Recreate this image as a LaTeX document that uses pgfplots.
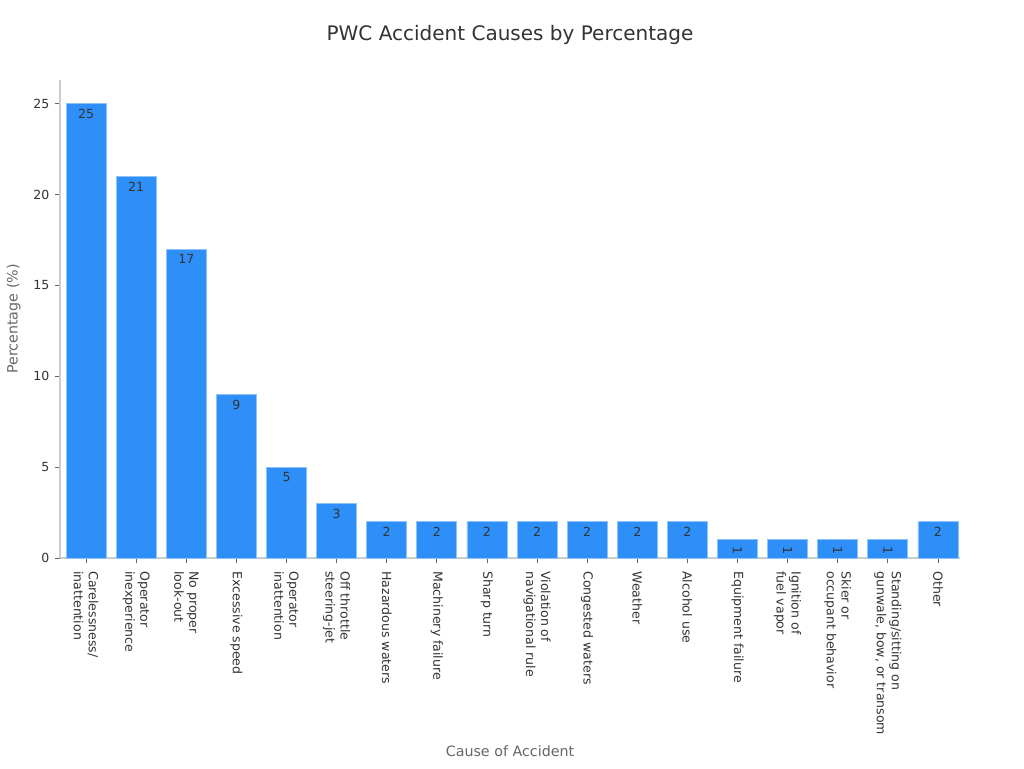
\documentclass[border=0pt]{standalone}
\usepackage{fontspec}
\setmainfont{DejaVu Sans}
\usepackage{pgfplots}
\pgfplotsset{compat=1.18}
\usepackage{pgfplotstable}

\definecolor{barblue}{HTML}{2D8FF7}
\definecolor{baredge}{HTML}{8CC4FA}
\definecolor{txt}{HTML}{333333}
\definecolor{lbl}{HTML}{666666}
\definecolor{axisgray}{HTML}{CCCCCC}

% idx value
\pgfplotstableread{
x y
0 25
1 21
2 17
3 9
4 5
5 3
6 2
7 2
8 2
9 2
10 2
11 2
12 2
17 2
}\bigbars
\pgfplotstableread{
x y
13 1
14 1
15 1
16 1
}\smallbars

\begin{document}
\begin{tikzpicture}
\begin{axis}[
   at={(0pt,0pt)}, anchor=south west,
   scale only axis,
   width=675pt, height=358.5pt,
   xmin=-0.52, xmax=17.44,
   ymin=0, ymax=26.3,
   axis x line*=bottom,
   axis y line*=left,
   axis line style={axisgray, line width=0.8pt},
   ytick={0,5,...,25},
   xtick={0,...,17},
   xticklabels={
     {Carelessness/\\inattention},
     {Operator\\inexperience},
     {No proper\\look-out},
     {Excessive speed},
     {Operator\\inattention},
     {Off throttle\\steering-jet},
     {Hazardous waters},
     {Machinery failure},
     {Sharp turn},
     {Violation of\\navigational rule},
     {Congested waters},
     {Weather},
     {Alcohol use},
     {Equipment failure},
     {Ignition of\\fuel vapor},
     {Skier or\\occupant behavior},
     {Standing/sitting on\\gunwale, bow, or transom},
     {Other}},
   tick align=outside,
   major tick length=4pt,
   tick style={lbl, line width=0.6pt},
   /pgf/number format/assume math mode=true,
   ticklabel style={font=\fontsize{9.4}{11}\selectfont, text=txt},
   yticklabel style={xshift=-0.5pt},
   xticklabel style={rotate=-90, anchor=west, align=left, xshift=2.5pt,
     font=\fontsize{9.4}{11.2}\selectfont},
   xlabel={Cause of Accident},
   ylabel={Percentage (\%)},
   label style={font=\fontsize{10.7}{12}\selectfont, text=lbl},
   xlabel style={at={(0.5,-0.0)}, anchor=north, yshift=-137pt},
   ylabel style={at={(rel axis cs:0,0.5)}, anchor=south, xshift=0pt, yshift=26pt},
   title={PWC Accident Causes by Percentage},
   title style={font=\fontsize{15}{17}\selectfont, text=txt, at={(0.5,1)}, anchor=south, yshift=17pt},
   /pgf/bar shift=0pt,
   bar width=0.8,
   clip=false,
]
\addplot[ybar, fill=barblue, draw=baredge, line width=0.6pt,
   nodes near coords,
   nodes near coords style={font=\fontsize{9.4}{11}\selectfont, text=txt, anchor=north, yshift=-0.5pt},
   /pgf/number format/assume math mode=true]
   table[x=x, y=y] {\bigbars};
\addplot[ybar, fill=barblue, draw=baredge, line width=0.6pt,
   nodes near coords,
   nodes near coords style={font=\fontsize{9.4}{11}\selectfont, text=txt, rotate=-90, anchor=west, xshift=1.5pt},
   /pgf/number format/assume math mode=true]
   table[x=x, y=y] {\smallbars};
\end{axis}
\useasboundingbox (-45pt,-157.5pt) rectangle (723pt,418.5pt);
\end{tikzpicture}
\end{document}
